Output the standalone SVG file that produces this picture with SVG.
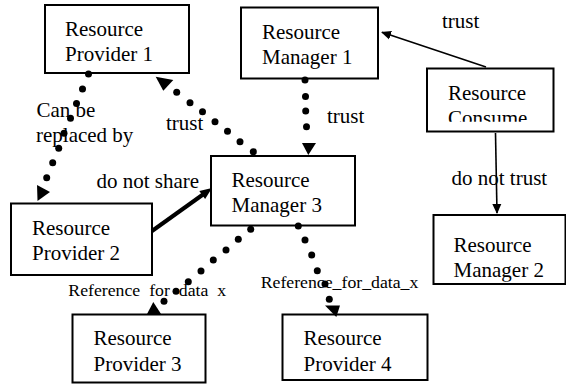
<svg xmlns="http://www.w3.org/2000/svg" width="566" height="385" viewBox="0 0 566 385">
<style>
.box{fill:#fff;stroke:#000;stroke-width:2}
.t{font-family:"Liberation Serif","Times New Roman",serif;font-size:21px;fill:#000}
.lb{font-family:"Liberation Serif","Times New Roman",serif;font-size:21px;fill:#000}
.sm{font-family:"Liberation Serif","Times New Roman",serif;font-size:17.75px;fill:#000}
.dot{fill:#000}
.thin{stroke:#000;stroke-width:1.6;fill:none}
</style>
<defs>
<marker id="ah" markerWidth="10" markerHeight="10" refX="9" refY="5" orient="auto" markerUnits="userSpaceOnUse">
<path d="M0,0.5 L10,5 L0,9.5 Z" fill="#000"/>
</marker>
<clipPath id="clipRC"><rect x="426" y="68" width="128" height="53.7"/></clipPath>
<clipPath id="clipRM2"><rect x="433" y="215" width="133" height="66.7"/></clipPath>
</defs>
<rect width="566" height="385" fill="#fff"/>

<g id="rp1">
<rect class="box" x="45" y="5" width="144" height="68"/>
<text class="t" x="65" y="36">Resource</text>
<text class="t" x="65" y="61">Provider 1</text>
</g>
<g id="rm1">
<rect class="box" x="241" y="7.5" width="137" height="71"/>
<text class="t" x="262" y="38.5">Resource</text>
<text class="t" x="262" y="63.5">Manager 1</text>
</g>
<g id="rc">
<rect class="box" x="427" y="68.5" width="126.5" height="63"/>
<g clip-path="url(#clipRC)">
<text class="t" x="448" y="100">Resource</text>
<text class="t" x="448" y="125">Consume</text>
</g>
</g>
<g id="rp2">
<rect class="box" x="11" y="203.5" width="141" height="71.5"/>
<text class="t" x="32" y="235">Resource</text>
<text class="t" x="32" y="260">Provider 2</text>
</g>
<g id="rm3">
<rect class="box" x="211" y="156" width="144" height="69.5"/>
<text class="t" x="231.5" y="186.7">Resource</text>
<text class="t" x="231.5" y="211.7">Manager 3</text>
</g>
<g id="rm2">
<rect class="box" x="433.5" y="215" width="132" height="69"/>
<g clip-path="url(#clipRM2)">
<text class="t" x="453.5" y="251.5">Resource</text>
<text class="t" x="453.5" y="276.5">Manager 2</text>
</g>
</g>
<g id="rp3">
<rect class="box" x="72.5" y="314.5" width="133" height="68"/>
<text class="t" x="93.5" y="345">Resource</text>
<text class="t" x="93.5" y="370.5">Provider 3</text>
</g>
<g id="rp4">
<rect class="box" x="282.5" y="314.5" width="145" height="65.5"/>
<text class="t" x="303.5" y="345">Resource</text>
<text class="t" x="303.5" y="370.5">Provider 4</text>
</g>

<g id="labels">
<text class="lb" x="442" y="28.3">trust</text>
<text class="lb" x="327" y="123.3">trust</text>
<text class="lb" x="166" y="130">trust</text>
<text class="lb" x="36.5" y="116.7">Can be</text>
<text class="lb" x="36" y="141.7">replaced by</text>
<text class="lb" x="96.5" y="188.3">do not share</text>
<text class="lb" x="451.5" y="185">do not trust</text>
<text class="sm" x="68.3" y="296" word-spacing="4.5">Reference for data x</text>
<text class="sm" x="260.7" y="288.3">Reference_for_data_x</text>
</g>

<g id="connectors">
<!-- RP1 to RP2: can be replaced by -->
<g class="dot">
<circle cx="88.5" cy="74" r="3.5"/><circle cx="82.5" cy="89" r="3.5"/><circle cx="76.5" cy="103.5" r="3.5"/><circle cx="70.5" cy="118.3" r="3.5"/><circle cx="64" cy="133.3" r="3.5"/><circle cx="58.7" cy="148.3" r="3.5"/><circle cx="52.7" cy="162.7" r="3.5"/><circle cx="46.7" cy="177.7" r="3.5"/>
</g>
<polygon points="37,185 50,192 37.5,201" fill="#000"/>
<!-- RM3 to RP1: trust -->
<g class="dot">
<circle cx="253.3" cy="151.7" r="3.5"/><circle cx="240" cy="141.7" r="3.5"/><circle cx="227.5" cy="131.2" r="3.5"/><circle cx="215" cy="121.7" r="3.5"/><circle cx="202.5" cy="111.7" r="3.5"/><circle cx="190" cy="102.7" r="3.5"/><circle cx="176.7" cy="92.3" r="3.5"/>
</g>
<polygon points="155.7,76.7 173.3,80 163.3,90.7" fill="#000"/>
<!-- RM1 to RM3: trust -->
<g class="dot">
<circle cx="305" cy="80" r="3.5"/><circle cx="305.5" cy="96.5" r="3.5"/><circle cx="305.7" cy="111" r="3.5"/><circle cx="306.5" cy="126.7" r="3.5"/>
</g>
<polygon points="302,143 316,143 308.3,155" fill="#000"/>
<!-- RP2 to RM3: do not share -->
<line x1="152" y1="231" x2="203" y2="194.5" stroke="#000" stroke-width="4"/>
<polygon points="212,188 199.3,190.9 205.1,199.1" fill="#000"/>
<!-- RM3 to RP3 -->
<g class="dot">
<circle cx="250.7" cy="229.3" r="3.5"/><circle cx="238.3" cy="239.3" r="3.5"/><circle cx="226" cy="250" r="3.5"/><circle cx="213.3" cy="260" r="3.5"/><circle cx="201" cy="271" r="3.5"/><circle cx="188.3" cy="281.7" r="3.5"/><circle cx="176" cy="291.3" r="3.5"/><circle cx="164" cy="301.3" r="3.5"/>
</g>
<polygon points="153.3,302 146.5,315 161.7,315" fill="#000"/>
<!-- RM3 to RP4 -->
<g class="dot">
<circle cx="298.3" cy="226" r="3.5"/><circle cx="305" cy="240" r="3.5"/><circle cx="311.7" cy="255" r="3.5"/><circle cx="317.3" cy="270.7" r="3.5"/><circle cx="325" cy="284" r="3.5"/><circle cx="329.3" cy="299.3" r="3.5"/>
</g>
<polygon points="325,305.5 340,305.5 336.3,317" fill="#000"/>
<!-- RC to RM1: trust -->
<line class="thin" x1="486" y1="67" x2="382" y2="32.3" marker-end="url(#ah)"/>
<!-- RC to RM2: do not trust -->
<line class="thin" x1="495.5" y1="133" x2="497" y2="213" marker-end="url(#ah)"/>
</g>
</svg>
